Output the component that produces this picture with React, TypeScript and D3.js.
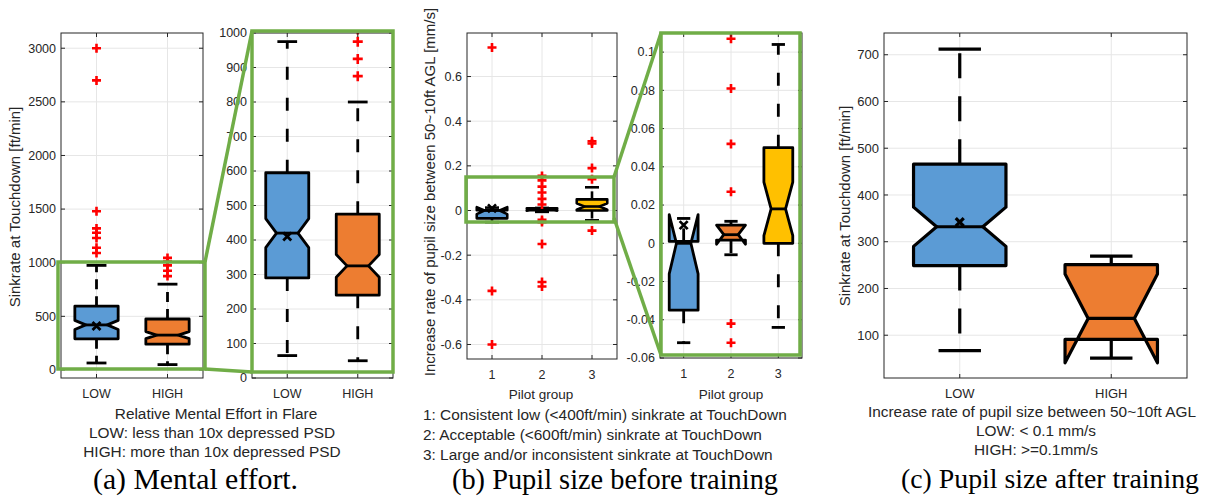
import React from 'react';
import * as d3 from 'd3';

// (a) mental effort: sinkrate at touchdown [ft/min]
const effortGroups = ['LOW', 'HIGH'];
const effortWhiskerLow = [65, 50];
const effortQ1 = [290, 240];
const effortNotchLow = [378, 292];
const effortMedian = [420, 325];
const effortNotchHigh = [462, 358];
const effortQ3 = [595, 475];
const effortWhiskerHigh = [975, 800];
const effortMean = [410, null];
const effortOutliers = [
  [1090, 1140, 1230, 1280, 1320, 1480, 2700, 3000],
  [875, 925, 975, 1010, 1045],
];
const effortTicksFull = [0, 500, 1000, 1500, 2000, 2500, 3000];
const effortTicksZoom = [0, 100, 200, 300, 400, 500, 600, 700, 800, 900, 1000];

// (b) pupil size increase rate before training [mm/s]
const pilotGroups = ['1', '2', '3'];
const beforeWhiskerLow = [-0.052, -0.006, -0.044];
const beforeQ1 = [-0.035, 0.0017, 0.0];
const beforeNotchLow = [-0.016, -0.0005, 0.004];
const beforeMedian = [0.0, 0.0045, 0.018];
const beforeNotchHigh = [0.015, 0.0095, 0.032];
const beforeQ3 = [0.001, 0.0095, 0.05];
const beforeWhiskerHigh = [0.013, 0.0115, 0.104];
const beforeMean = [0.0095, null, null];
const beforeOutliers = [
  [0.73, -0.36, -0.6],
  [0.155, 0.135, 0.107, 0.081, 0.052, 0.027, -0.042, -0.052, -0.15, -0.32, -0.34],
  [0.31, 0.3, 0.19, 0.14, -0.09],
];
const beforeTicksFull = [-0.6, -0.4, -0.2, 0, 0.2, 0.4, 0.6];
const beforeTicksZoom = [-0.06, -0.04, -0.02, 0, 0.02, 0.04, 0.06, 0.08, 0.1];

// (c) sinkrate after training [ft/min]
const afterGroups = ['LOW', 'HIGH'];
const afterWhiskerLow = [67, 51];
const afterQ1 = [249, 91];
const afterNotchLow = [290, 41];
const afterMedian = [332, 136];
const afterNotchHigh = [374, 231];
const afterQ3 = [466, 251];
const afterWhiskerHigh = [712, 269];
const afterMean = [342, null];
const afterOutliers: number[][] = [[], []];
const afterTicks = [100, 200, 300, 400, 500, 600, 700];

const fills = ['#5b9bd5', '#ed7d31', '#ffc000'];
const GREEN = '#70ad47';
const SANS = '"Liberation Sans", Arial, sans-serif';
const SERIF = '"Liberation Serif", "Times New Roman", serif';

const fmt = (v: number) => String(Math.round(v * 1000) / 1000);

type Stats = {
  lo: number[];
  q1: number[];
  nlo: number[];
  med: number[];
  nhi: number[];
  q3: number[];
  hi: number[];
  mean: (number | null)[];
  out: number[][];
};

const effortStats: Stats = {
  lo: effortWhiskerLow, q1: effortQ1, nlo: effortNotchLow, med: effortMedian,
  nhi: effortNotchHigh, q3: effortQ3, hi: effortWhiskerHigh, mean: effortMean, out: effortOutliers,
};
const beforeStats: Stats = {
  lo: beforeWhiskerLow, q1: beforeQ1, nlo: beforeNotchLow, med: beforeMedian,
  nhi: beforeNotchHigh, q3: beforeQ3, hi: beforeWhiskerHigh, mean: beforeMean, out: beforeOutliers,
};
const afterStats: Stats = {
  lo: afterWhiskerLow, q1: afterQ1, nlo: afterNotchLow, med: afterMedian,
  nhi: afterNotchHigh, q3: afterQ3, hi: afterWhiskerHigh, mean: afterMean, out: afterOutliers,
};

type Frame = { x0: number; x1: number; y0: number; y1: number };

function BoxPanel(props: {
  id: string;
  frame: Frame;
  domain: [number, number];
  ticks: number[];
  groups: string[];
  s: Stats;
  dash: string;
  lw: number;
  tickFont: number;
  plus: number;
}) {
  const { id, frame, domain, ticks, groups, s, dash, lw, tickFont, plus } = props;
  const x = d3.scaleLinear().domain([0.5, groups.length + 0.5]).range([frame.x0, frame.x1]);
  const y = d3.scaleLinear().domain(domain).range([frame.y1, frame.y0]);
  const unit = x(2) - x(1);
  const half = unit * 0.305;
  const inset = half / 2;
  const cap = unit * 0.14;
  const line = d3.line();

  return (
    <g>
      <defs>
        <clipPath id={id}>
          <rect x={frame.x0} y={frame.y0} width={frame.x1 - frame.x0} height={frame.y1 - frame.y0} />
        </clipPath>
      </defs>
      {/* grid */}
      {ticks.map((t) => (
        <line key={'gy' + t} x1={frame.x0} x2={frame.x1} y1={y(t)} y2={y(t)} stroke="#e6e6e6" strokeWidth={1} />
      ))}
      {groups.map((g, i) => (
        <line key={'gx' + g} x1={x(i + 1)} x2={x(i + 1)} y1={frame.y0} y2={frame.y1} stroke="#e6e6e6" strokeWidth={1} />
      ))}
      <g clipPath={`url(#${id})`}>
        {groups.map((g, i) => {
          const cx = x(i + 1);
          const l = cx - half;
          const r = cx + half;
          const pts: [number, number][] = [
            [l, y(s.q1[i])],
            [l, y(s.nlo[i])],
            [l + inset, y(s.med[i])],
            [l, y(s.nhi[i])],
            [l, y(s.q3[i])],
            [r, y(s.q3[i])],
            [r, y(s.nhi[i])],
            [r - inset, y(s.med[i])],
            [r, y(s.nlo[i])],
            [r, y(s.q1[i])],
          ];
          const m = s.mean[i];
          return (
            <g key={g}>
              <line x1={cx} x2={cx} y1={y(s.q3[i])} y2={y(s.hi[i])} stroke="#000" strokeWidth={lw} strokeDasharray={dash} />
              <line x1={cx} x2={cx} y1={y(s.q1[i])} y2={y(s.lo[i])} stroke="#000" strokeWidth={lw} strokeDasharray={dash} />
              <line x1={cx - cap} x2={cx + cap} y1={y(s.hi[i])} y2={y(s.hi[i])} stroke="#000" strokeWidth={lw} />
              <line x1={cx - cap} x2={cx + cap} y1={y(s.lo[i])} y2={y(s.lo[i])} stroke="#000" strokeWidth={lw} />
              <path d={line(pts) + 'Z'} fill={fills[i]} stroke="#000" strokeWidth={lw} strokeLinejoin="round" />
              <line x1={l + inset} x2={r - inset} y1={y(s.med[i])} y2={y(s.med[i])} stroke="#000" strokeWidth={lw} />
              {m !== null && (
                <path
                  d={`M${cx - 4},${y(m) - 4}L${cx + 4},${y(m) + 4}M${cx - 4},${y(m) + 4}L${cx + 4},${y(m) - 4}`}
                  stroke="#000"
                  strokeWidth={lw}
                />
              )}
              {s.out[i].map((o, k) => (
                <path
                  key={k}
                  d={`M${cx - plus},${y(o)}H${cx + plus}M${cx},${y(o) - plus}V${y(o) + plus}`}
                  stroke="#ff0000"
                  strokeWidth={2.6}
                />
              ))}
            </g>
          );
        })}
      </g>
      {/* axes box + ticks */}
      <rect x={frame.x0} y={frame.y0} width={frame.x1 - frame.x0} height={frame.y1 - frame.y0} fill="none" stroke="#262626" strokeWidth={1} />
      {ticks.map((t) => (
        <g key={'t' + t}>
          <line x1={frame.x0} x2={frame.x0 + 4} y1={y(t)} y2={y(t)} stroke="#262626" />
          <line x1={frame.x1} x2={frame.x1 - 4} y1={y(t)} y2={y(t)} stroke="#262626" />
          <text x={frame.x0 - 5} y={y(t)} dy="0.35em" textAnchor="end" fontSize={tickFont} fontFamily={SANS} fill="#262626">
            {fmt(t)}
          </text>
        </g>
      ))}
      {groups.map((g, i) => (
        <g key={'xt' + g}>
          <line x1={x(i + 1)} x2={x(i + 1)} y1={frame.y1} y2={frame.y1 - 4} stroke="#262626" />
          <line x1={x(i + 1)} x2={x(i + 1)} y1={frame.y0} y2={frame.y0 + 4} stroke="#262626" />
          <text x={x(i + 1)} y={frame.y1 + 20} textAnchor="middle" fontSize={tickFont} fontFamily={SANS} fill="#262626">
            {g}
          </text>
        </g>
      ))}
    </g>
  );
}

const T = (p: { x: number; y: number; s: number; a?: string; children: string; rot?: boolean }) => (
  <text
    x={p.x}
    y={p.y}
    fontSize={p.s}
    fontFamily={SANS}
    fill="#262626"
    textAnchor={p.a || 'middle'}
    transform={p.rot ? `rotate(-90 ${p.x} ${p.y})` : undefined}
  >
    {p.children}
  </text>
);

const Caption = (p: { x: number; y: number; w: number; s: number; children: string }) => (
  <text x={p.x} y={p.y} fontSize={p.s} fontFamily={SERIF} fill="#000" textLength={p.w} lengthAdjust="spacingAndGlyphs">
    {p.children}
  </text>
);

export default function App() {
  return (
    <svg width={1206} height={497} style={{ position: 'absolute', left: 0, top: 0, background: '#fff' }}>
      <BoxPanel id="a1" frame={{ x0: 61, x1: 203, y0: 33, y1: 378 }} domain={[-75, 3142]} ticks={effortTicksFull}
        groups={effortGroups} s={effortStats} dash="10,7" lw={2.8} tickFont={12.5} plus={4.5} />
      <BoxPanel id="a2" frame={{ x0: 252, x1: 393, y0: 33, y1: 378 }} domain={[0, 1000]} ticks={effortTicksZoom}
        groups={effortGroups} s={effortStats} dash="13,18" lw={2.8} tickFont={12.5} plus={5} />
      <BoxPanel id="b1" frame={{ x0: 467, x1: 617, y0: 33, y1: 359 }} domain={[-0.665, 0.795]} ticks={beforeTicksFull}
        groups={pilotGroups} s={beforeStats} dash="8,6" lw={2.6} tickFont={12.5} plus={4.5} />
      <BoxPanel id="b2" frame={{ x0: 660, x1: 802, y0: 33, y1: 358 }} domain={[-0.06, 0.11]} ticks={beforeTicksZoom}
        groups={pilotGroups} s={beforeStats} dash="13,18" lw={2.8} tickFont={12.5} plus={4.5} />
      <BoxPanel id="c1" frame={{ x0: 884, x1: 1187, y0: 33, y1: 378 }} domain={[8.5, 746.5]} ticks={afterTicks}
        groups={afterGroups} s={afterStats} dash="25,18" lw={3.2} tickFont={13} plus={5} />

      {/* zoom annotations */}
      <g fill="none" stroke={GREEN} strokeWidth={3.5}>
        <rect x={58} y={262} width={147} height={107} />
        <rect x={252} y={31} width={141} height={341} />
        <line x1={205} y1={262} x2={252} y2={31} />
        <line x1={205} y1={369} x2={252} y2={372} />
        <rect x={466} y={177} width={148} height={45} />
        <rect x={661} y={33} width={139} height={322} />
        <line x1={614} y1={177} x2={661} y2={33} />
        <line x1={614} y1={218} x2={661} y2={355} />
      </g>

      {/* axis labels */}
      <T x={20} y={207} s={15} rot>Sinkrate at Touchdown [ft/min]</T>
      <T x={435} y={192} s={15} rot>Increase rate of pupil size between 50~10ft AGL [mm/s]</T>
      <T x={850} y={206} s={15} rot>Sinkrate at Touchdown [ft/min]</T>
      <T x={541} y={399} s={13.5}>Pilot group</T>
      <T x={731} y={399} s={13.5}>Pilot group</T>

      <T x={216} y={419} s={15.4}>Relative Mental Effort in Flare</T>
      <T x={212} y={438} s={15.4}>LOW: less than 10x depressed PSD</T>
      <T x={212} y={457} s={15.4}>HIGH: more than 10x depressed PSD</T>

      <T x={423} y={420} s={15.4} a="start">1: Consistent low (&lt;400ft/min) sinkrate at TouchDown</T>
      <T x={423} y={440} s={15.4} a="start">2: Acceptable (&lt;600ft/min) sinkrate at TouchDown</T>
      <T x={423} y={460} s={15.4} a="start">3: Large and/or inconsistent sinkrate at TouchDown</T>

      <T x={1032} y={417} s={15.4}>Increase rate of pupil size between 50~10ft AGL</T>
      <T x={1036} y={436} s={15.4}>LOW: &lt; 0.1 mm/s</T>
      <T x={1036} y={455} s={15.4}>HIGH: &gt;=0.1mm/s</T>

      <Caption x={93} y={489} w={205} s={30}>(a) Mental effort.</Caption>
      <Caption x={452} y={489} w={326} s={30}>(b) Pupil size before training</Caption>
      <Caption x={901} y={488} w={298} s={28}>(c) Pupil size after training</Caption>
    </svg>
  );
}
